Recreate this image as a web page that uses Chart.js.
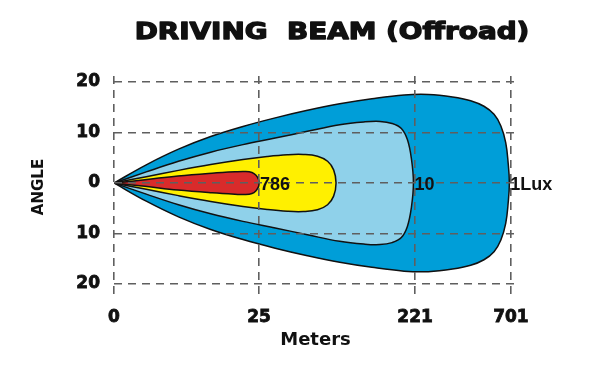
<!DOCTYPE html>
<html><head><meta charset="utf-8">
<script src="https://cdn.jsdelivr.net/npm/chart.js@4.4.1/dist/chart.umd.min.js"></script>
<style>html,body{margin:0;padding:0;background:#fff}</style>
</head><body>
<canvas id="c" width="604" height="380"></canvas>
<script>
// ---- data ----
const titleText = 'DRIVING  BEAM (Offroad)';
const xAxisTitle = 'Meters';
const yAxisTitle = 'ANGLE';
const xTickValues = [0, 36.0, 74.7, 98.5];
const xTickLabels = ['0', '25', '221', '701'];
const yTickValues = [-20, -10, 0, 10, 20];
const yTickLabels = ['20', '10', '0', '10', '20'];
const zoneNames = ['786 lux', 'yellow zone', '10 lux', '1 lux'];
const zoneLabels = ['786', '', '10', '1Lux'];

// upper edge of each zone (x along beam, half angle in degrees); lower edge is mirrored
const redX = [0, 7.69, 15.88, 24.32, 30.02, 32.51, 34.24, 35.24, 35.86, 36.0];
const redHalf = [0, 0.65, 1.40, 1.95, 2.22, 2.28, 2.08, 1.52, 0.72, 0];
const yellowX = [0, 8, 16, 24, 32, 38, 43, 47, 50.5, 53, 54.5, 55.1];
const yellowHalf = [0, 1.25, 2.5, 3.65, 4.65, 5.25, 5.6, 5.65, 5.3, 4.3, 2.6, 0];
const lightX = [0, 8, 16, 24, 32, 40, 48, 56, 62, 66, 69, 71.3, 72.8, 73.8, 74.3];
const lightHalf = [0, 2.2, 4.3, 6.1, 7.6, 8.9, 10.25, 11.55, 12.1, 12.2, 11.8, 10.8, 8.6, 4.8, 0];
const outerX = [0, 8, 16, 24, 32, 40, 48, 56, 64, 72, 78, 84, 88.5, 91.8, 94.3, 96.0, 97.2, 97.8, 98.1];
const outerHalf = [0, 3.6, 6.7, 9.2, 11.2, 12.9, 14.4, 15.7, 16.7, 17.45, 17.55, 17.05, 16.3, 15.2, 13.6, 11.3, 8.0, 4.0, 0];

const zoneX = [redX, yellowX, lightX, outerX];
const zoneHalf = [redHalf, yellowHalf, lightHalf, outerHalf];
const zoneColors = ['#D92B2B', '#FFF000', '#8FD1EA', '#009ED8'];

function outline(xs, hs) {
  const pts = xs.map((x, i) => ({x: x, y: hs[i]}));
  for (let i = xs.length - 2; i >= 0; i--) pts.push({x: xs[i], y: -hs[i]});
  return pts;
}

const textPlugin = {
  id: 'beamText',
  afterDraw(chart) {
    const ctx = chart.ctx;
    const xs = chart.scales.x, ys = chart.scales.y;
    ctx.save();
    ctx.fillStyle = '#111';
    ctx.strokeStyle = '#111';
    ctx.lineWidth = 1.3;
    ctx.lineJoin = 'round';
    ctx.textBaseline = 'middle';
    ctx.textAlign = 'center';
    ctx.font = 'bold 23px "DejaVu Sans"';
    ctx.translate(332, 33);
    ctx.scale(1.21, 1);
    ctx.fillText(titleText, 0, 0);
    ctx.strokeText(titleText, 0, 0);
    ctx.restore();

    ctx.save();
    ctx.fillStyle = '#111';
    ctx.textBaseline = 'middle';
    ctx.textAlign = 'left';
    ctx.font = 'bold 18px "Liberation Sans"';
    zoneLabels.forEach((lab, i) => {
      if (!lab) return;
      const tip = Math.max.apply(null, zoneX[i]);
      ctx.fillText(lab, xs.getPixelForValue(tip) + 1, ys.getPixelForValue(0) + 2);
    });
    ctx.restore();
  }
};

const tickFont = {family: 'DejaVu Sans', weight: 'bold', size: 17};
const gridCfg = {color: '#5f5f5f', lineWidth: 1.6, drawTicks: false, z: 1};
const borderCfg = {display: false, dash: [8, 6]};

new Chart(document.getElementById('c'), {
  type: 'line',
  data: {
    datasets: zoneNames.map((name, i) => ({
      label: name,
      data: outline(zoneX[i], zoneHalf[i]),
      backgroundColor: zoneColors[i],
      borderColor: '#111',
      borderWidth: 1.5,
      fill: 'shape',
      tension: 0.4,
      pointRadius: 0
    }))
  },
  options: {
    responsive: false,
    animation: false,
    layout: {padding: {left: 0, right: 87, top: 76, bottom: 0}},
    plugins: {legend: {display: false}, tooltip: {enabled: false}, title: {display: false}},
    scales: {
      x: {
        type: 'linear', min: 0, max: 100,
        afterBuildTicks: s => { s.ticks = xTickValues.map(v => ({value: v})); },
        afterFit: s => { s.height = 82; },
        ticks: {autoSkip: false, maxRotation: 0, padding: 9, font: tickFont, color: '#111',
                textStrokeColor: '#111', textStrokeWidth: 0.8,
                callback: (v, i) => xTickLabels[i]},
        grid: gridCfg,
        border: borderCfg,
        title: {display: true, text: xAxisTitle, color: '#111',
                font: {family: 'DejaVu Sans', weight: 'bold', size: 18},
                padding: {top: 0, bottom: 29}}
      },
      y: {
        type: 'linear', min: -22.77, max: 21.19,
        afterBuildTicks: s => { s.ticks = yTickValues.map(v => ({value: v})); },
        afterFit: s => { s.width = 114; },
        ticks: {autoSkip: false, padding: 14, font: tickFont, color: '#111',
                textStrokeColor: '#111', textStrokeWidth: 0.8,
                callback: (v, i) => yTickLabels[i]},
        grid: gridCfg,
        border: borderCfg,
        title: {display: true, text: yAxisTitle, color: '#111',
                font: {family: 'DejaVu Sans', weight: 'bold', size: 15},
                padding: {top: 30, bottom: 0}}
      }
    }
  },
  plugins: [textPlugin]
});
</script>
</body></html>
